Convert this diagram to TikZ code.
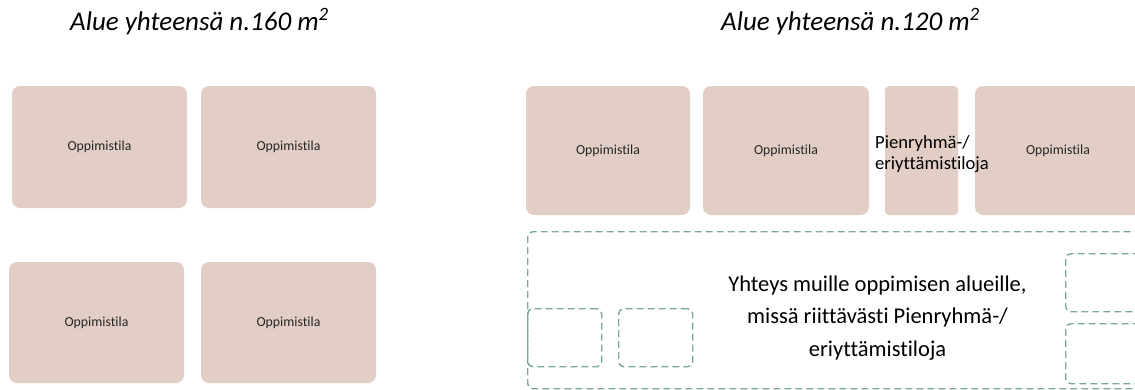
\documentclass[tikz,border=0pt]{standalone}
\usepackage{fontspec}
\setmainfont{Carlito}[Ligatures=NoCommon]
\usepackage{tikz}
\usepackage{color}
\definecolor{tilafill}{RGB}{226,206,197}
\definecolor{katkoc}{RGB}{122,168,155}
\definecolor{tekstic}{RGB}{38,38,38}

\begin{document}
\begin{tikzpicture}[x=1pt,y=-1pt,
  tila/.style={fill=tilafill,rounded corners=8pt,inner sep=0pt,text=tekstic,
    font=\fontsize{13.8}{16}\selectfont},
  katko/.style={draw=katkoc,line width=1.4pt,dash pattern=on 7pt off 4pt,
    rounded corners=5pt,inner sep=0pt},
  otsikko/.style={anchor=base,text=black,font=\fontsize{27}{32}\selectfont\itshape}]
\useasboundingbox (0,0) rectangle (1135,389);
\clip (0,0) rectangle (1135,389);
% otsikot
\node[otsikko] (ots1) at (199.5,30) {Alue yhteensä n.160 m\textsuperscript{2}};
\node[otsikko] (ots2) at (850.5,30) {Alue yhteensä n.120 m\textsuperscript{2}};
% vasen alue
\node[tila,minimum width=175pt,minimum height=122pt] (t1) at (99.5,147) {Oppimistila};
\node[tila,minimum width=175pt,minimum height=122pt] (t2) at (288.5,147) {Oppimistila};
\node[tila,minimum width=175pt,minimum height=121pt] (t3) at (96.5,322.5) {Oppimistila};
\node[tila,minimum width=175pt,minimum height=121pt] (t4) at (288.5,322.5) {Oppimistila};
% oikea alue
\node[tila,minimum width=164pt,minimum height=129pt] (ta) at (608,150.5) {Oppimistila};
\node[tila,minimum width=166pt,minimum height=129pt] (tb) at (786,150.5) {Oppimistila};
\node[tila,rounded corners=4pt,minimum width=73pt,minimum height=129pt] (pr) at (921.5,150.5) {};
\node[tila,minimum width=166pt,minimum height=129pt] (td) at (1058,150.5) {Oppimistila};
\node[anchor=west,inner sep=0pt,align=left,text=black,
  font=\fontsize{18.6}{21}\selectfont] (prt) at (875,154) {Pienryhmä-/\\eriyttämistiloja};
% yhteys
\node[katko,minimum width=630pt,minimum height=157pt,anchor=north west] (yh) at (527,231) {};
\node[katko,minimum width=74pt,minimum height=58pt,anchor=north west] (k1) at (527,308) {};
\node[katko,minimum width=74pt,minimum height=58pt,anchor=north west] (k2) at (618,308) {};
\node[katko,minimum width=90pt,minimum height=58pt,anchor=north west] (k3) at (1065,253) {};
\node[katko,minimum width=90pt,minimum height=60pt,anchor=north west] (k4) at (1065,323) {};
\node[align=center,inner sep=0pt,text=black,
  font=\fontsize{22.5}{32.3}\selectfont] (yht) at (877.5,318) {Yhteys muille oppimisen alueille,\\missä riittävästi Pienryhmä-/\\eriyttämistiloja};
\end{tikzpicture}
\end{document}
